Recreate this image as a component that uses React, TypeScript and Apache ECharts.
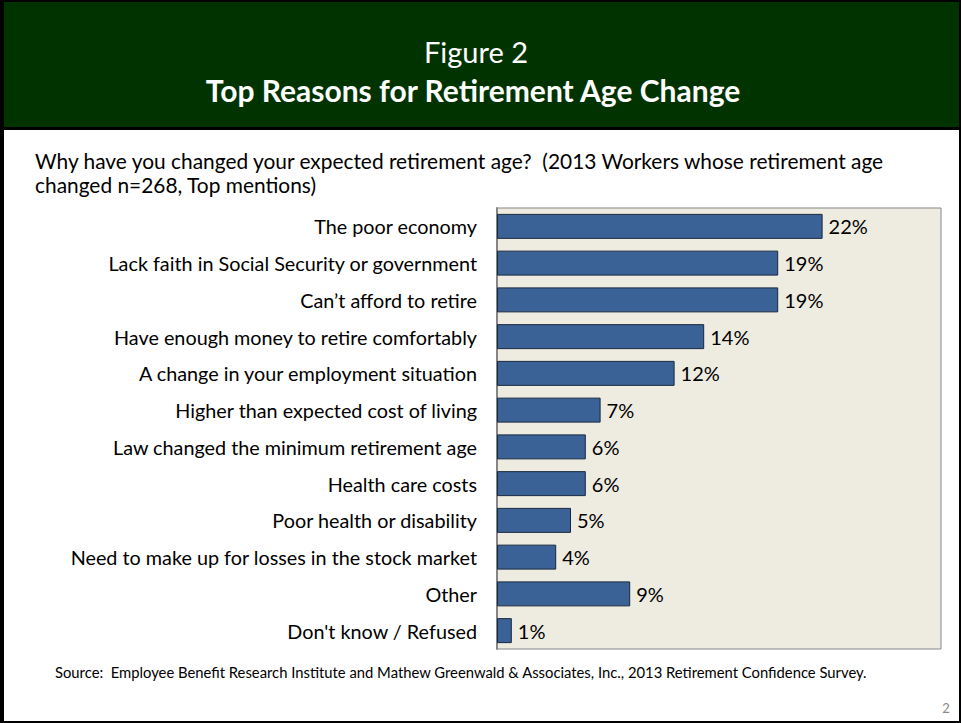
import React, { useEffect, useRef } from "react";
import * as echarts from "echarts";

const categories = [
  "The poor economy",
  "Lack faith in Social Security or government",
  "Can\u2019t afford to retire",
  "Have enough money to retire comfortably",
  "A change in your employment situation",
  "Higher than expected cost of living",
  "Law changed the minimum retirement age",
  "Health care costs",
  "Poor health or disability",
  "Need to make up for losses in the stock market",
  "Other",
  "Don't know / Refused",
];
const values = [22, 19, 19, 14, 12, 7, 6, 6, 5, 4, 9, 1];

const headerLine1 = "Figure 2";
const headerLine2 = "Top Reasons for Retirement Age Change";
const subtitle1 = "Why have you changed your expected retirement age?  (2013 Workers whose retirement age";
const subtitle2 = "changed n=268, Top mentions)";
const sourceText =
  "Source:  Employee Benefit Research Institute and Mathew Greenwald & Associates, Inc., 2013 Retirement Confidence Survey.";
const pageNumber = "2";

const FONT = "Lato, 'Open Sans', sans-serif";

export default function App() {
  const ref = useRef<HTMLDivElement>(null);
  useEffect(() => {
    if (!ref.current) return;
    const chart = echarts.init(ref.current, undefined, { renderer: "svg" });
    chart.setOption({
      animation: false,
      backgroundColor: "#ffffff",
      textStyle: { fontFamily: FONT },
      graphic: [
        { type: "rect", shape: { x: 0, y: 0, width: 961, height: 128 }, style: { fill: "#003300" }, z: 0 },
        { type: "rect", shape: { x: 0, y: 127, width: 961, height: 3 }, style: { fill: "#000000" }, z: 1 },
        { type: "rect", shape: { x: 0, y: 0, width: 4, height: 723 }, style: { fill: "#000000" }, z: 1 },
        { type: "rect", shape: { x: 959, y: 0, width: 2, height: 723 }, style: { fill: "#000000" }, z: 1 },
        { type: "rect", shape: { x: 0, y: 0, width: 961, height: 2 }, style: { fill: "#000000" }, z: 1 },
        { type: "rect", shape: { x: 0, y: 721, width: 961, height: 2 }, style: { fill: "#000000" }, z: 1 },
        {
          type: "text", x: 476, y: 51, z: 2,
          style: { text: headerLine1, fill: "#ffffff", font: `normal 29px ${FONT}`, textAlign: "center", textVerticalAlign: "middle" },
        },
        {
          type: "text", x: 473, y: 90, z: 2,
          style: { text: headerLine2, fill: "#ffffff", font: `bold 30px ${FONT}`, textAlign: "center", textVerticalAlign: "middle" },
        },
        {
          type: "text", x: 35, y: 160, z: 2,
          style: { text: subtitle1, fill: "#000000", font: `normal 20.9px ${FONT}`, textAlign: "left", textVerticalAlign: "middle" },
        },
        {
          type: "text", x: 35, y: 184, z: 2,
          style: { text: subtitle2, fill: "#000000", font: `normal 20.9px ${FONT}`, textAlign: "left", textVerticalAlign: "middle" },
        },
        {
          type: "text", x: 55, y: 672, z: 2,
          style: { text: sourceText, fill: "#000000", font: `normal 14.8px ${FONT}`, textAlign: "left", textVerticalAlign: "middle" },
        },
        {
          type: "text", x: 946, y: 708, z: 2,
          style: { text: pageNumber, fill: "#888888", font: `normal 13px ${FONT}`, textAlign: "center", textVerticalAlign: "middle" },
        },
      ],
      grid: {
        left: 497,
        top: 208,
        right: 20,
        bottom: 74,
        show: true,
        backgroundColor: "#EEEBE0",
        borderColor: "#868686",
        borderWidth: 1,
      },
      xAxis: {
        type: "value",
        min: 0,
        max: 30,
        show: false,
        splitLine: { show: false },
      },
      yAxis: {
        type: "category",
        data: categories,
        inverse: true,
        axisLine: { show: true, lineStyle: { color: "#868686", width: 2 } },
        axisTick: { show: false },
        axisLabel: { color: "#000000", fontSize: 19.8, margin: 20, fontFamily: FONT },
        splitLine: { show: false },
      },
      series: [
        {
          type: "bar",
          data: values,
          barCategoryGap: "32%",
          itemStyle: { color: "#3A6296", borderColor: "#17283F", borderWidth: 1 },
          label: {
            show: true,
            position: "right",
            distance: 6,
            formatter: "{c}%",
            color: "#000000",
            fontSize: 20,
            fontFamily: FONT,
          },
        },
      ],
    });
    return () => chart.dispose();
  }, []);
  return (
    <div
      ref={ref}
      style={{ position: "absolute", left: 0, top: 0, width: 961, height: 723 }}
    />
  );
}
